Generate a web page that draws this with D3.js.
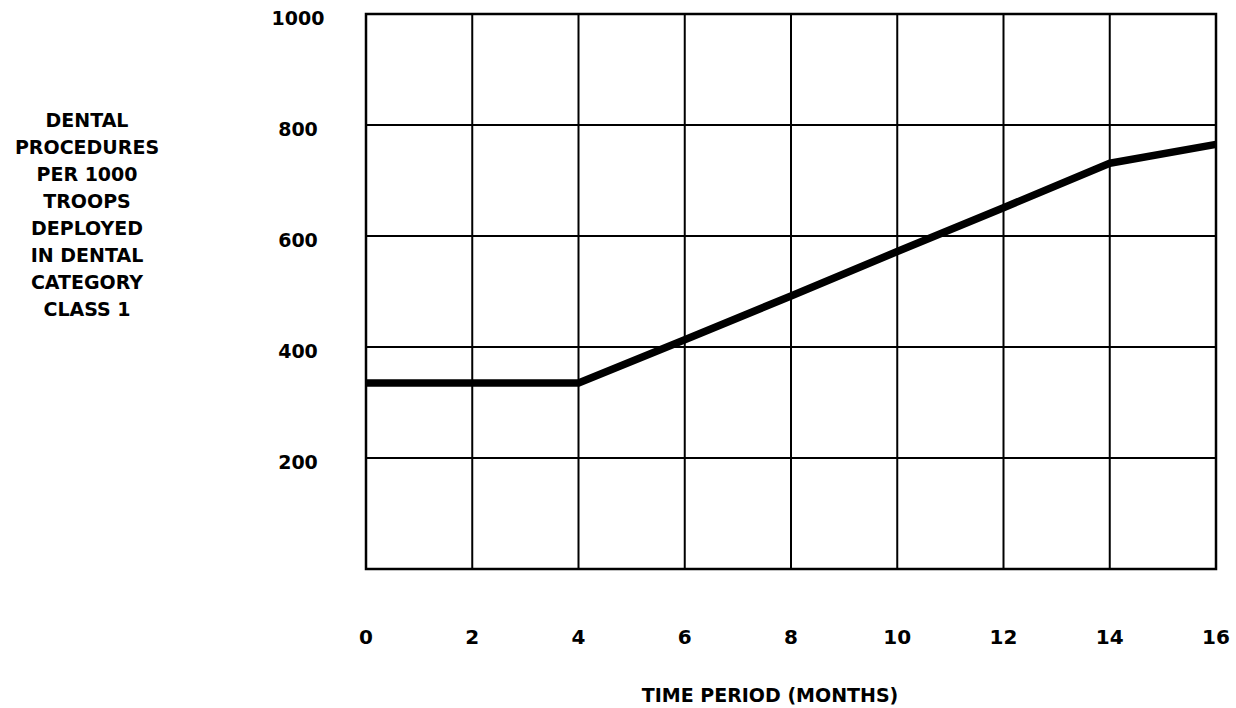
<!DOCTYPE html>
<html>
<head>
<meta charset="utf-8">
<script src="https://cdn.jsdelivr.net/npm/d3@7"></script>
<style>
  body { margin: 0; background: #fff; }
  text { font-family: "DejaVu Sans", "Liberation Sans", Arial, sans-serif; font-weight: bold; fill: #000; }
</style>
</head>
<body>
<div id="chart"></div>
<script>
// values
var months = [0, 4, 6, 8, 10, 12, 14, 16];
var procedures = [335, 335, 413, 492, 572, 651, 731, 765];
var xTicks = [0, 2, 4, 6, 8, 10, 12, 14, 16];
var yTicks = [200, 400, 600, 800, 1000];
var yTitle = ["DENTAL", "PROCEDURES", "PER 1000", "TROOPS", "DEPLOYED", "IN DENTAL", "CATEGORY", "CLASS 1"];
var xTitle = "TIME PERIOD (MONTHS)";

var width = 1236, height = 708;
var margin = {top: 14, right: 20, bottom: 139, left: 366};

var svg = d3.select("#chart").append("svg")
  .attr("width", width)
  .attr("height", height);

var x = d3.scaleLinear().domain([0, 16]).range([margin.left, width - margin.right]);
var y = d3.scaleLinear().domain([0, 1000]).range([height - margin.bottom, margin.top]);

// grid
svg.append("g")
  .selectAll("line")
  .data(xTicks)
  .enter().append("line")
  .attr("x1", d => x(d)).attr("x2", d => x(d))
  .attr("y1", y(0)).attr("y2", y(1000))
  .attr("stroke", "#000")
  .attr("stroke-width", 2);

svg.append("g")
  .selectAll("line")
  .data([0].concat(yTicks))
  .enter().append("line")
  .attr("x1", x(0)).attr("x2", x(16))
  .attr("y1", d => y(d)).attr("y2", d => y(d))
  .attr("stroke", "#000")
  .attr("stroke-width", 2);

svg.append("rect")
  .attr("x", x(0)).attr("y", y(1000))
  .attr("width", x(16) - x(0))
  .attr("height", y(0) - y(1000))
  .attr("fill", "none")
  .attr("stroke", "#000")
  .attr("stroke-width", 2.5);

// tick labels
svg.append("g")
  .selectAll("text")
  .data(xTicks)
  .enter().append("text")
  .attr("x", d => x(d))
  .attr("y", 644)
  .attr("text-anchor", "middle")
  .style("font-size", "20px")
  .text(d => d);

svg.append("g")
  .selectAll("text")
  .data(yTicks)
  .enter().append("text")
  .attr("x", 298)
  .attr("y", d => y(d) + 11)
  .attr("text-anchor", "middle")
  .style("font-size", "19px")
  .text(d => d);

// axis titles
svg.append("g")
  .selectAll("text")
  .data(yTitle)
  .enter().append("text")
  .attr("x", 87)
  .attr("y", (d, i) => 127 + i * 27)
  .attr("text-anchor", "middle")
  .style("font-size", "19px")
  .text(d => d);

svg.append("text")
  .attr("x", 770)
  .attr("y", 702)
  .attr("text-anchor", "middle")
  .style("font-size", "19px")
  .text(xTitle);

// the line
var line = d3.line()
  .x((d, i) => x(months[i]))
  .y(d => y(d));

svg.append("path")
  .datum(procedures)
  .attr("d", line)
  .attr("fill", "none")
  .attr("stroke", "#000")
  .attr("stroke-width", 7.5)
  .attr("stroke-linejoin", "round");
</script>
</body>
</html>
